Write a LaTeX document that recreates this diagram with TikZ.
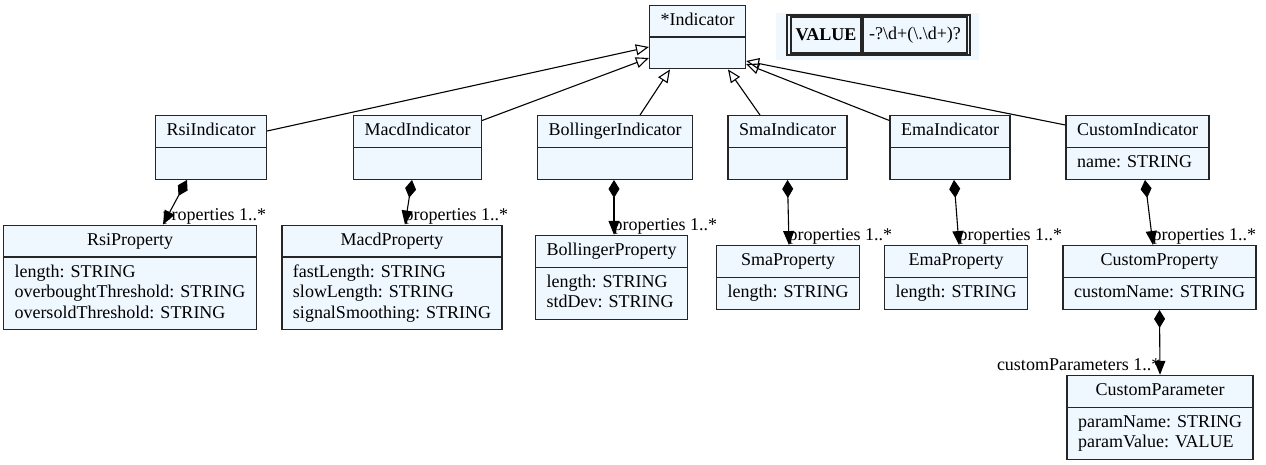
\documentclass[tikz,border=0pt]{standalone}
\usepackage{fontspec}
\setmainfont{Liberation Serif}
\usetikzlibrary{arrows.meta,shapes.multipart}
\definecolor{classfill}{HTML}{F0F8FF}
\newcommand{\attrs}[1]{\begin{tabular}{@{}l@{}}#1\end{tabular}}

\begin{document}
\begin{tikzpicture}[
    x=1pt, y=-1pt,
    every node/.style={font=\fontsize{18}{20.5}\selectfont},
    umlclass/.style={rectangle split, rectangle split parts=2,
        rectangle split part align={center,left}, draw=black!85,
        fill=classfill, line width=1.3pt, inner xsep=11pt, inner ysep=5pt},
    cell/.style={draw=black!85, line width=1.1pt, inner sep=0pt, minimum height=36pt},
    inherit/.style={-{Triangle[open,length=13pt,width=11pt]}, line width=1.1pt},
    comp/.style={{Diamond[length=18pt,width=11pt]}-{Triangle[length=14pt,width=11pt]}, line width=1.1pt},
    role/.style={inner sep=0pt, anchor=base west, xshift=-1pt, yshift=4.5pt}
    ]

    \useasboundingbox (0,0) rectangle (1266,465);

    \node[umlclass] (ind) at (697.5,37) {\strut*Indicator\nodepart{two}\strut};

    \node[fill=classfill, inner sep=0pt, minimum width=203pt, minimum height=47pt] (valbg) at (877.5,36.5) {};
    \node[draw=black!85, line width=1.1pt, inner sep=0pt, minimum width=183pt, minimum height=40pt] (valtab) at (878.5,35) {};
    \node[cell, minimum width=70pt] (valkey) at (826,35) {\textbf{VALUE}};
    \node[cell, minimum width=104pt] (valpat) at (915,35) {-?\textbackslash d+(\textbackslash .\textbackslash d+)?};

    \node[umlclass] (rsi) at (211,147.5) {\strut RsiIndicator\nodepart{two}\strut};
    \node[umlclass] (macd) at (417.5,147.5) {\strut MacdIndicator\nodepart{two}\strut};
    \node[umlclass] (boll) at (615,147.5) {\strut BollingerIndicator\nodepart{two}\strut};
    \node[umlclass] (sma) at (787.5,147.5) {\strut SmaIndicator\nodepart{two}\strut};
    \node[umlclass] (ema) at (950,147.5) {\strut EmaIndicator\nodepart{two}\strut};
    \node[umlclass] (cust) at (1137.5,147.5) {\strut CustomIndicator\nodepart{two}\strut name: STRING};

    \node[umlclass] (rsiprop) at (130,277.5) {\strut RsiProperty\nodepart{two}\attrs{length: STRING\\overboughtThreshold: STRING\\oversoldThreshold: STRING}};
    \node[umlclass] (macdprop) at (392,277.5) {\strut MacdProperty\nodepart{two}\attrs{fastLength: STRING\\slowLength: STRING\\signalSmoothing: STRING}};
    \node[umlclass] (bollprop) at (611.5,277.5) {\strut BollingerProperty\nodepart{two}\attrs{length: STRING\\stdDev: STRING}};
    \node[umlclass] (smaprop) at (788,277.5) {\strut SmaProperty\nodepart{two}\strut length: STRING};
    \node[umlclass] (emaprop) at (956,277.5) {\strut EmaProperty\nodepart{two}\strut length: STRING};
    \node[umlclass] (custprop) at (1159.5,277.5) {\strut CustomProperty\nodepart{two}\strut customName: STRING};

    \node[umlclass] (custparam) at (1160,417.5) {\strut CustomParameter\nodepart{two}\attrs{paramName: STRING\\paramValue: VALUE}};

    \draw[inherit] ([yshift=16.5pt]rsi.east) -- ([yshift=-10pt]ind.west);
    \draw[inherit] ([yshift=27pt]macd.east) -- ([yshift=-21pt]ind.west);
    \draw[inherit] ([xshift=25pt]boll.north) -- ([xshift=-27.5pt]ind.south);
    \draw[inherit] ([xshift=-27.5pt]sma.north) -- ([xshift=30.5pt]ind.south);
    \draw[inherit] ([yshift=27pt]ema.west) -- ([yshift=-27pt]ind.east);
    \draw[inherit] ([yshift=22.5pt]cust.west) -- ([yshift=-24pt]ind.east);

    \draw[comp] ([xshift=-24pt]rsi.south) -- ([xshift=33pt]rsiprop.north) node[role] {properties 1..*};
    \draw[comp] ([xshift=-5.5pt]macd.south) -- ([xshift=13pt]macdprop.north) node[role] {properties 1..*};
    \draw[comp] ([xshift=-1pt]boll.south) -- ([xshift=2.5pt]bollprop.north) node[role] {properties 1..*};
    \draw[comp] (sma.south) -- ([xshift=1pt]smaprop.north) node[role] {properties 1..*};
    \draw[comp] ([xshift=4pt]ema.south) -- ([xshift=3pt]emaprop.north) node[role] {properties 1..*};
    \draw[comp] ([xshift=7.5pt]cust.south) -- ([xshift=-6.5pt]custprop.north) node[role] {properties 1..*};
    \draw[comp] (custprop.south) -- (custparam.north) node[role, anchor=base east, xshift=2pt] {customParameters 1..*};

\end{tikzpicture}
\end{document}
